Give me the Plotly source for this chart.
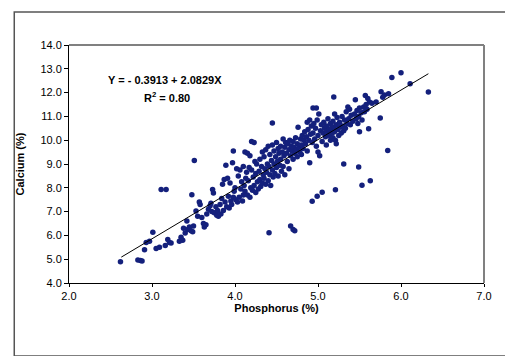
import plotly.graph_objects as go

# --- data ---
phosphorus = [
    2.62, 2.83, 2.86, 2.88, 2.91, 2.93, 2.97, 3.01, 3.05, 3.09, 3.11, 3.17, 3.16, 3.19, 3.21, 3.23, 3.33, 3.35, 3.37, 3.38, 3.40, 3.42, 3.43, 3.45, 3.47, 3.48, 3.49, 3.51, 3.50,
    3.53, 3.55, 3.57, 3.58, 3.60, 3.62, 3.63, 3.65, 3.66, 3.68, 3.70, 3.71, 3.72, 3.73, 3.74, 3.75, 3.77, 3.78, 3.79, 3.80,
    3.82, 3.83, 3.84, 3.85, 3.86, 3.87, 3.88, 3.89, 3.90, 3.91, 3.92, 3.93, 3.94, 3.95, 3.96, 3.97, 3.98, 3.98, 3.99, 4.00,
    4.01, 4.02, 4.03, 4.04, 4.05, 4.06, 4.07, 4.08, 4.09, 4.10, 4.10, 4.11, 4.12, 4.12, 4.13, 4.14, 4.15, 4.15, 4.16, 4.17, 4.18, 4.18, 4.19, 4.20, 4.20, 4.21, 4.22, 4.23, 4.23, 4.24, 4.25, 4.25, 4.26, 4.27, 4.28, 4.29, 4.30, 4.30,
    4.31, 4.32, 4.33, 4.33, 4.34, 4.35, 4.35, 4.36, 4.37, 4.37, 4.38, 4.39, 4.40, 4.40, 4.41, 4.42, 4.42, 4.43, 4.44, 4.45, 4.45, 4.46, 4.47, 4.47, 4.48, 4.49, 4.50, 4.50, 4.51, 4.52, 4.52, 4.53, 4.54, 4.55, 4.55, 4.56, 4.57, 4.58, 4.58, 4.59, 4.60, 4.60,
    4.61, 4.62, 4.63, 4.64, 4.65, 4.65, 4.66, 4.67, 4.68, 4.69, 4.70, 4.70, 4.71, 4.72, 4.73, 4.74, 4.75, 4.75, 4.76, 4.77, 4.78, 4.79, 4.80, 4.80,
    4.81, 4.82, 4.83, 4.84, 4.85, 4.86, 4.87, 4.87, 4.88, 4.89, 4.90, 4.90, 4.91, 4.92, 4.93, 4.94, 4.94, 4.95, 4.96, 4.97, 4.98, 4.98, 4.99, 5.00, 5.00, 5.01, 5.02,
    5.03, 5.04, 5.05, 5.06, 5.07, 5.08, 5.09, 5.10, 5.10, 5.11, 5.12, 5.13, 5.14, 5.15, 5.15, 5.16, 5.17, 5.18, 5.18, 5.19, 5.19, 5.20, 5.20, 5.21,
    5.22, 5.22, 5.23, 5.24, 5.25, 5.26, 5.27, 5.28, 5.29, 5.30, 5.31, 5.32, 5.33, 5.34, 5.35, 5.36, 5.37, 5.38, 5.39, 5.40,
    5.42, 5.44, 5.45, 5.46, 5.47, 5.48, 5.49, 5.50, 5.50, 5.52, 5.53, 5.55, 5.56, 5.57, 5.58, 5.59, 5.60, 5.61, 5.62, 5.65, 5.70, 5.75, 5.76, 5.78, 5.80, 5.85,
    5.89, 6.00, 6.11, 6.33,
    4.41, 4.45, 4.67, 4.70, 4.72, 4.93, 4.99, 5.05, 5.21, 5.31, 5.49, 5.53, 5.63, 5.84,
]
calcium = [
    4.89, 4.97, 4.95, 4.92, 5.40, 5.70, 5.75, 6.13, 5.45, 5.50, 7.93, 7.93, 5.58, 5.83, 5.70, 5.68, 5.75, 5.92, 5.80, 6.30, 6.10, 6.60, 6.25, 6.35, 6.20, 7.71, 6.15, 9.15, 6.40,
    7.02, 6.80, 7.40, 7.30, 6.75, 6.50, 6.35, 6.45, 6.90, 7.10, 7.25, 7.35, 7.00, 7.93, 7.78, 6.95, 7.20, 6.85, 7.05, 6.80,
    7.30, 6.90, 7.55, 8.15, 7.05, 8.35, 7.40, 8.95, 7.20, 8.40, 7.65, 7.15, 8.20, 7.45, 7.30, 9.05, 9.55, 7.60, 7.85, 8.00,
    7.50, 8.80, 7.40, 8.50, 7.60, 8.75, 7.95, 8.25, 7.45, 8.90, 7.70, 8.10, 9.50, 7.85, 8.40, 8.65, 9.45, 7.70, 8.30, 8.85, 9.35, 7.60, 8.00, 9.95, 8.75, 7.90, 8.45, 9.90, 8.10, 9.10, 7.80, 8.60, 9.00, 8.25, 7.95, 8.70, 9.20, 8.35,
    8.05, 8.90, 9.50, 8.20, 8.55, 9.30, 8.40, 8.80, 9.60, 8.15, 8.65, 9.00, 9.75, 8.30, 8.90, 9.40, 8.55, 8.10, 9.15, 9.80, 8.75, 8.45, 9.55, 9.00, 8.60, 9.30, 9.90, 8.85, 9.10, 9.65, 8.50, 9.45, 8.95, 9.75, 9.20, 8.70, 9.50, 10.05, 8.90, 9.35, 9.70, 8.55,
    9.90, 9.45, 9.10, 9.85, 9.60, 8.80, 10.00, 9.35, 9.75, 9.55, 9.95, 9.20, 9.70, 9.45, 10.10, 9.60, 9.85, 9.30, 10.54, 9.70, 9.50, 10.05, 9.80, 9.40,
    10.20, 9.65, 10.00, 10.35, 9.85, 10.15, 10.75, 9.55, 10.45, 10.00, 10.85, 9.05, 10.25, 10.60, 9.90, 11.35, 10.30, 10.70, 10.05, 10.50, 11.35, 9.75, 10.85, 10.20, 9.50, 11.10, 9.35,
    10.40, 10.65, 9.95, 10.30, 10.75, 10.50, 10.15, 10.60, 9.80, 10.35, 10.90, 10.45, 10.20, 10.70, 10.00, 10.50, 10.30, 10.80, 10.10, 11.81, 10.55, 11.10, 10.35, 10.00,
    9.85, 10.65, 10.95, 10.45, 10.20, 10.75, 10.55, 10.30, 11.00, 10.60, 10.40, 10.85, 10.50, 11.20, 10.70, 11.40, 10.90, 11.30, 10.65, 11.05,
    10.80, 11.10, 11.70, 10.90, 11.25, 10.70, 11.00, 10.35, 11.35, 11.15, 10.85, 11.40, 11.20, 11.88, 11.50, 11.30, 11.75, 10.48, 11.60, 11.55, 11.60, 10.93, 12.04, 11.80, 11.90, 11.95,
    12.63, 12.83, 12.37, 12.02,
    6.11, 10.72, 6.39, 6.25, 6.20, 7.44, 7.64, 7.81, 7.92, 9.00, 8.87, 8.11, 8.30, 9.57,
]

intercept = -0.3913
slope = 2.0829
fit_x = [2.63, 6.33]
fit_y = [intercept + slope * v for v in fit_x]

x_ticks = [2.0, 3.0, 4.0, 5.0, 6.0, 7.0]
y_ticks = [4.0, 5.0, 6.0, 7.0, 8.0, 9.0, 10.0, 11.0, 12.0, 13.0, 14.0]

FONT = "Liberation Sans, Arial, sans-serif"

fig = go.Figure()
fig.add_trace(go.Scatter(
    x=phosphorus, y=calcium, mode="markers",
    marker=dict(size=5.5, color="#14207c", line=dict(width=0)),
    showlegend=False, hoverinfo="x+y",
))
fig.add_trace(go.Scatter(
    x=fit_x, y=fit_y, mode="lines",
    line=dict(color="black", width=1),
    showlegend=False, hoverinfo="skip",
))

fig.update_layout(
    width=513, height=356,
    margin=dict(l=59, r=37, t=37, b=81),
    paper_bgcolor="white", plot_bgcolor="white",
    font=dict(family=FONT, size=11, color="black"),
    xaxis=dict(
        range=[2.0, 7.0], tickvals=x_ticks, ticktext=[f"{v:.1f}" for v in x_ticks],
        showgrid=False, zeroline=False, showline=True, linecolor="black", linewidth=1,
        ticks="outside", ticklen=3, tickcolor="black", tickfont=dict(size=11),
        title=dict(text="<b>Phosphorus (%)</b>", font=dict(size=11), standoff=2),
    ),
    yaxis=dict(
        range=[4.0, 14.0], tickvals=y_ticks, ticktext=[f"{v:.1f}" for v in y_ticks],
        showgrid=False, zeroline=False, showline=True, linecolor="black", linewidth=1,
        ticks="outside", ticklen=4, tickcolor="black", tickfont=dict(size=11),
        title=dict(text="<b>Calcium (%)</b>", font=dict(size=11), standoff=13),
    ),
    shapes=[
        dict(type="line", xref="paper", yref="paper", x0=0, x1=1, y0=1, y1=1,
             line=dict(color="#808080", width=2)),
        dict(type="line", xref="paper", yref="paper", x0=1, x1=1, y0=0, y1=1,
             line=dict(color="#808080", width=2)),
        dict(type="rect", xref="paper", yref="paper",
             x0=-0.1319, x1=1.0719, y0=-0.3067, y1=1.1387,
             line=dict(color="#555555", width=1.5)),
    ],
    annotations=[
        dict(x=3.16, y=12.53, xref="x", yref="y", showarrow=False,
             text="<b>Y = - 0.3913 + 2.0829X</b>", font=dict(size=11)),
        dict(x=3.18, y=11.80, xref="x", yref="y", showarrow=False,
             text="<b>R<sup>2</sup> = 0.80</b>", font=dict(size=11)),
    ],
)

fig.write_html("out.html")
